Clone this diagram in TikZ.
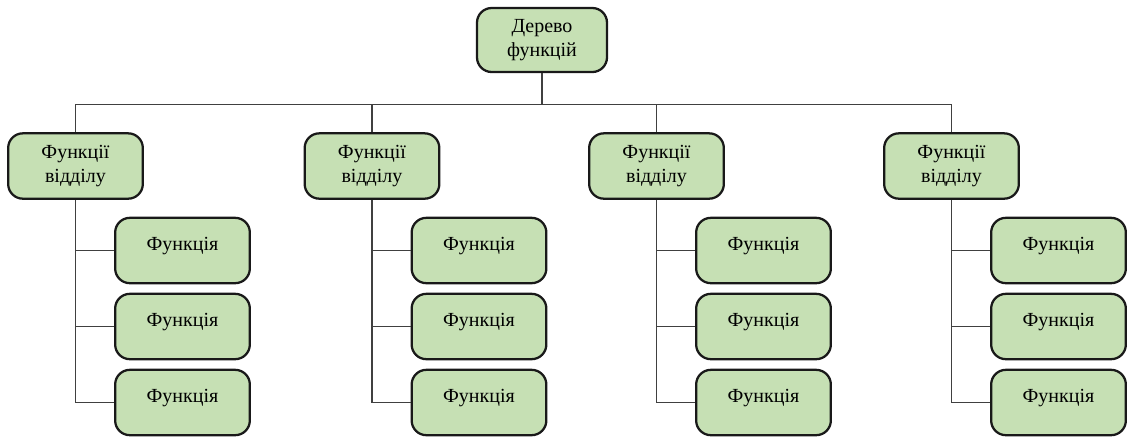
\documentclass[tikz,border=0pt]{standalone}
\usepackage{fontspec}
\setmainfont{Liberation Serif}
\definecolor{boxgreen}{RGB}{198,224,180}
\begin{document}
\begin{tikzpicture}[x=0.75pt,y=-0.75pt,
  box/.style={draw=black!90, line width=1.7pt, fill=boxgreen, rounded corners=11pt,
    minimum width=101pt, minimum height=49pt, inner sep=2pt, align=center,
    font=\fontsize{15pt}{18pt}\selectfont},
  fbox/.style={box, text height=10pt, text depth=10pt},
  conn/.style={draw=black!75, line width=0.8pt}]
\useasboundingbox (0,0) rectangle (1132,437);
\node[box, minimum width=97.5pt, minimum height=48pt] (root) at (542,40) {Дерево\\функцій};
\foreach \i/\x in {1/75.5,2/372,3/656.5,4/951.5}{
  \node[box] (d\i) at (\x,166) {Функції\\відділу};
  \foreach \j/\y in {1/250.5,2/326.5,3/402.5}{
    \node[fbox] (f\i\j) at (\x+107,\y) {Функція};
    \draw[conn] (d\i.south) |- (f\i\j.west);
  }
  \draw[conn] (root.south) -- ++(0,31) -| (d\i.north);
}
\end{tikzpicture}
\end{document}
